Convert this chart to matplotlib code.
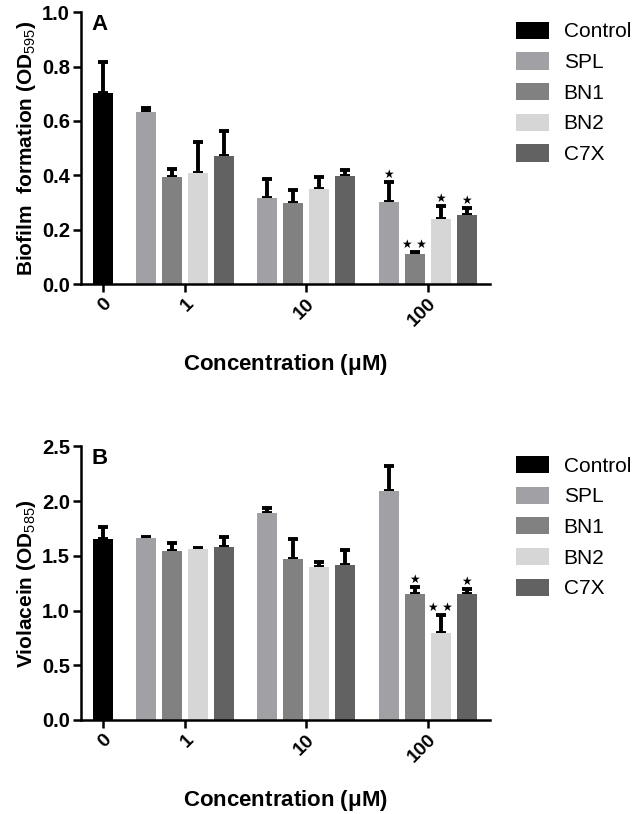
import numpy as np
import matplotlib.pyplot as plt
from matplotlib.patches import Patch

plt.rcParams['font.family'] = ['Liberation Sans', 'DejaVu Sans']
plt.rcParams['mathtext.fontset'] = 'custom'
plt.rcParams['mathtext.rm'] = 'Liberation Sans'
plt.rcParams['mathtext.bf'] = 'Liberation Sans:bold'

# Data
concentrations = ["0", "1", "10", "100"]
compounds = ["SPL", "BN1", "BN2", "C7X"]
colors = {"Control": "#000000", "SPL": "#a1a1a5", "BN1": "#818181",
          "BN2": "#d6d6d6", "C7X": "#626262"}

# Panel A: biofilm formation (mean, upper SD), rows = 1, 10, 100 uM
biofilm_control = 0.703
biofilm_control_err = 0.114
biofilm_mean = {
    "SPL": [0.633, 0.315, 0.303],
    "BN1": [0.393, 0.297, 0.110],
    "BN2": [0.410, 0.349, 0.241],
    "C7X": [0.472, 0.398, 0.254],
}
biofilm_err = {
    "SPL": [0.013, 0.070, 0.073],
    "BN1": [0.030, 0.049, 0.008],
    "BN2": [0.111, 0.044, 0.046],
    "C7X": [0.090, 0.020, 0.025],
}
biofilm_stars = {"SPL": [0, 0, 1], "BN1": [0, 0, 2], "BN2": [0, 0, 1], "C7X": [0, 0, 1]}

# Panel B: violacein
viol_control = 1.65
viol_control_err = 0.11
viol_mean = {
    "SPL": [1.66, 1.896, 2.089],
    "BN1": [1.544, 1.474, 1.147],
    "BN2": [1.56, 1.40, 0.795],
    "C7X": [1.584, 1.415, 1.147],
}
viol_err = {
    "SPL": [0.016, 0.044, 0.229],
    "BN1": [0.071, 0.176, 0.070],
    "BN2": [0.010, 0.040, 0.162],
    "C7X": [0.086, 0.135, 0.053],
}
viol_stars = {"SPL": [0, 0, 0], "BN1": [0, 0, 1], "BN2": [0, 0, 2], "C7X": [0, 0, 1]}

group_starts = [1.67, 6.33, 11.0]
bar_w = 0.77

fig = plt.figure(figsize=(6.38, 8.14), dpi=100)
ax_a = fig.add_axes([0.127, 0.651, 0.641, 0.334])
ax_b = fig.add_axes([0.127, 0.1155, 0.641, 0.336])


def draw_panel(ax, ctrl, ctrl_err, means, errs, stars, ymax, yticks, ylabel, letter, star_pad):
    ek = dict(ecolor="black", elinewidth=2.8, capsize=3.8, capthick=2.8)
    ax.bar(0, ctrl, bar_w, color=colors["Control"], zorder=2)
    ax.errorbar(0, ctrl, yerr=[[0], [ctrl_err]], fmt="none", zorder=1, **ek)
    for i, c in enumerate(compounds):
        xs = np.array(group_starts) + i
        ax.bar(xs, means[c], bar_w, color=colors[c], zorder=2)
        ax.errorbar(xs, means[c], yerr=[np.zeros(3), errs[c]], fmt="none", zorder=1, **ek)
        for x, m, e, s in zip(xs, means[c], errs[c], stars[c]):
            if s:
                ax.text(x, m + e + star_pad, "★" if s == 1 else "★ ★",
                        ha="center", va="bottom", fontsize=8.5,
                        family="DejaVu Sans")
    centers = [0] + [g + 1.5 for g in group_starts]
    ax.set_xticks(centers)
    ax.set_xticklabels(concentrations, rotation=45, ha="right", rotation_mode="anchor",
                       fontsize=14, fontweight="bold")
    ax.set_xlim(-0.83, 14.9)
    ax.set_ylim(0, ymax)
    ax.set_yticks(yticks)
    ax.set_yticklabels([f"{t:.1f}" for t in yticks], fontsize=14.5, fontweight="bold")
    ax.set_ylabel(ylabel, fontsize=15, fontweight="bold", labelpad=3)
    ax.set_xlabel(r"Concentration ($\mathbf{\mu}$M)", fontsize=16, fontweight="bold", labelpad=16)
    for sp in ["top", "right"]:
        ax.spines[sp].set_visible(False)
    for sp in ["left", "bottom"]:
        ax.spines[sp].set_linewidth(1.8)
    ax.tick_params(width=1.8, length=6, direction="out", pad=2)
    ax.text(0.025, 0.995, letter, transform=ax.transAxes, fontsize=16,
            fontweight="bold", va="top")
    handles = [Patch(facecolor=colors[k], edgecolor="none") for k in colors]
    ax.legend(handles, list(colors.keys()), loc="upper left", bbox_to_anchor=(1.04, 1.0),
              frameon=False, fontsize=15, handlelength=1.6, handleheight=0.9,
              labelspacing=0.52, handletextpad=0.7, borderaxespad=0.05)


draw_panel(ax_a, biofilm_control, biofilm_control_err, biofilm_mean, biofilm_err,
           biofilm_stars, 1.0, [0.0, 0.2, 0.4, 0.6, 0.8, 1.0],
           r"Biofilm  formation (OD$_{595}$)", "A", 0.005)
draw_panel(ax_b, viol_control, viol_control_err, viol_mean, viol_err,
           viol_stars, 2.5, [0.0, 0.5, 1.0, 1.5, 2.0, 2.5],
           r"Violacein (OD$_{585}$)", "B", 0.01)

fig.savefig("out.png", dpi=100)
